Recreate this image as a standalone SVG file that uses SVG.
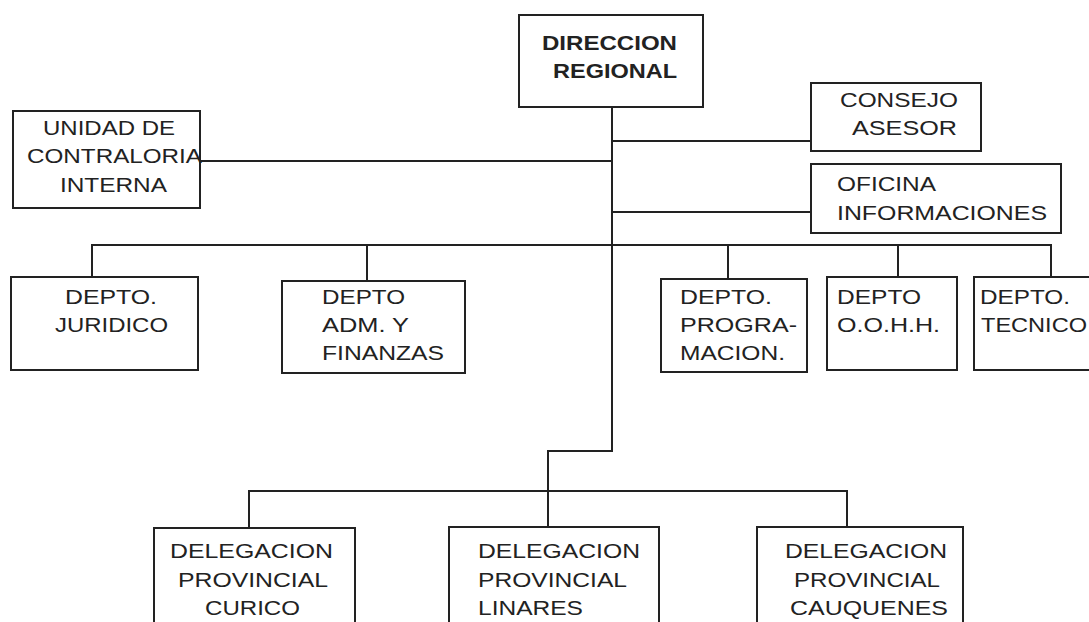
<svg xmlns="http://www.w3.org/2000/svg" width="1089" height="622" viewBox="0 0 1089 622">
<style>
.box{fill:#fff;stroke:#222;stroke-width:2}
.ln{fill:none;stroke:#222;stroke-width:2}
text{font-family:"Liberation Sans",Arial,sans-serif;font-size:21px;fill:#222}
.b{font-weight:bold}
</style>
<rect width="1089" height="622" fill="#fff"/>
<g id="connectors">
<path class="ln" d="M612 107 V451 H548 V527"/>
<path class="ln" d="M197 161 H612"/>
<path class="ln" d="M612 141 H811"/>
<path class="ln" d="M612 212 H811"/>
<path class="ln" d="M92 277 V245 H1051 V277"/>
<path class="ln" d="M367 245 V281"/>
<path class="ln" d="M728 245 V279"/>
<path class="ln" d="M898 245 V277"/>
<path class="ln" d="M249 528 V491 H847 V527"/>
</g>
<g id="direccion">
<rect class="box" x="519" y="15" width="184" height="92"/>
<text class="b" x="542" y="50" textLength="135" lengthAdjust="spacingAndGlyphs">DIRECCION</text>
<text class="b" x="553" y="78" textLength="124" lengthAdjust="spacingAndGlyphs">REGIONAL</text>
</g>
<g id="contraloria">
<rect class="box" x="13" y="111" width="187" height="97"/>
<text x="43" y="135" textLength="132" lengthAdjust="spacingAndGlyphs">UNIDAD DE</text>
<text x="27" y="163" textLength="175" lengthAdjust="spacingAndGlyphs">CONTRALORIA</text>
<text x="60" y="192" textLength="107" lengthAdjust="spacingAndGlyphs">INTERNA</text>
</g>
<g id="consejo">
<rect class="box" x="811" y="83" width="170" height="68"/>
<text x="840" y="107" textLength="118" lengthAdjust="spacingAndGlyphs">CONSEJO</text>
<text x="852" y="135" textLength="105" lengthAdjust="spacingAndGlyphs">ASESOR</text>
</g>
<g id="oficina">
<rect class="box" x="811" y="164" width="250" height="69"/>
<text x="837" y="191" textLength="99" lengthAdjust="spacingAndGlyphs">OFICINA</text>
<text x="837" y="220" textLength="210" lengthAdjust="spacingAndGlyphs">INFORMACIONES</text>
</g>
<g id="juridico">
<rect class="box" x="11" y="277" width="187" height="93"/>
<text x="65" y="304" textLength="92" lengthAdjust="spacingAndGlyphs">DEPTO.</text>
<text x="55" y="332" textLength="113" lengthAdjust="spacingAndGlyphs">JURIDICO</text>
</g>
<g id="finanzas">
<rect class="box" x="282" y="281" width="183" height="92"/>
<text x="322" y="304" textLength="83" lengthAdjust="spacingAndGlyphs">DEPTO</text>
<text x="322" y="332" textLength="87" lengthAdjust="spacingAndGlyphs">ADM. Y</text>
<text x="322" y="360" textLength="122" lengthAdjust="spacingAndGlyphs">FINANZAS</text>
</g>
<g id="programacion">
<rect class="box" x="661" y="279" width="146" height="93"/>
<text x="680" y="304" textLength="92" lengthAdjust="spacingAndGlyphs">DEPTO.</text>
<text x="680" y="332" textLength="117" lengthAdjust="spacingAndGlyphs">PROGRA-</text>
<text x="680" y="360" textLength="105" lengthAdjust="spacingAndGlyphs">MACION.</text>
</g>
<g id="oohh">
<rect class="box" x="827" y="277" width="130" height="93"/>
<text x="837" y="304" textLength="84" lengthAdjust="spacingAndGlyphs">DEPTO</text>
<text x="837" y="332" textLength="103" lengthAdjust="spacingAndGlyphs">O.O.H.H.</text>
</g>
<g id="tecnico">
<rect class="box" x="974" y="277" width="130" height="93"/>
<text x="980" y="304" textLength="90" lengthAdjust="spacingAndGlyphs">DEPTO.</text>
<text x="981" y="332" textLength="106" lengthAdjust="spacingAndGlyphs">TECNICO</text>
</g>
<g id="curico">
<rect class="box" x="154" y="528" width="201" height="110"/>
<text x="170" y="558" textLength="163" lengthAdjust="spacingAndGlyphs">DELEGACION</text>
<text x="178" y="587" textLength="150" lengthAdjust="spacingAndGlyphs">PROVINCIAL</text>
<text x="205" y="615" textLength="95" lengthAdjust="spacingAndGlyphs">CURICO</text>
</g>
<g id="linares">
<rect class="box" x="449" y="527" width="210" height="110"/>
<text x="478" y="558" textLength="162" lengthAdjust="spacingAndGlyphs">DELEGACION</text>
<text x="478" y="587" textLength="149" lengthAdjust="spacingAndGlyphs">PROVINCIAL</text>
<text x="478" y="615" textLength="105" lengthAdjust="spacingAndGlyphs">LINARES</text>
</g>
<g id="cauquenes">
<rect class="box" x="757" y="527" width="206" height="110"/>
<text x="785" y="558" textLength="162" lengthAdjust="spacingAndGlyphs">DELEGACION</text>
<text x="794" y="587" textLength="146" lengthAdjust="spacingAndGlyphs">PROVINCIAL</text>
<text x="790" y="615" textLength="158" lengthAdjust="spacingAndGlyphs">CAUQUENES</text>
</g>
</svg>
